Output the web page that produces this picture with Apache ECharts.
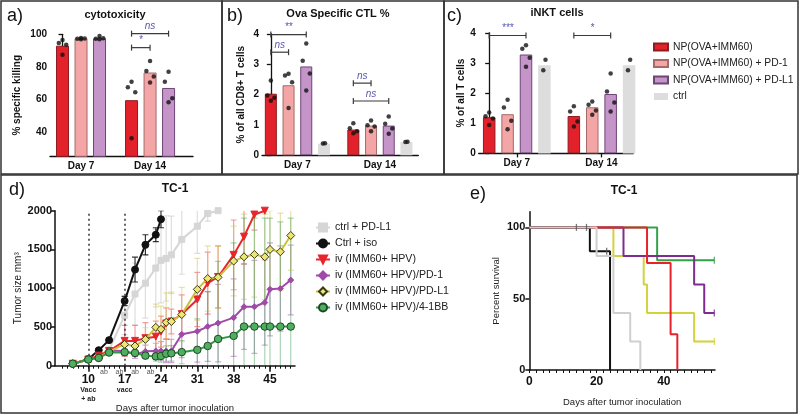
<!DOCTYPE html>
<html><head><meta charset="utf-8">
<script src="https://cdn.jsdelivr.net/npm/echarts@6/dist/echarts.min.js"></script>
<style>html,body{margin:0;padding:0;background:#fff}#c{width:800px;height:418px}</style>
</head><body><div id="c"></div>
<script>
// ================= DATA =================
const barGroups = ['NP(OVA+IMM60)', 'NP(OVA+IMM60) + PD-1', 'NP(OVA+IMM60) + PD-L1', 'ctrl'];
const barDays = ['Day 7', 'Day 14'];

// a) cytotoxicity: [day][group]
const cytoMeans = [[93, 97.5, 97.5], [59.5, 76.5, 67]];
const cytoDots = [
  [[96.5, 94.6, 93.6, 87.4], [97.8, 97.2, 97.4, 97.0], [99.0, 97.2, 97.5, 97.0]],
  [[70.9, 67.4, 64.4, 36.1], [83.6, 77.5, 74.0, 70.3], [77.0, 70.9, 60.7, 58.2]]
];
const cytoSig = [{day:1, from:0, to:2, y:100.4, label:'ns'}, {day:1, from:0, to:1, y:91.8, label:'*'}];
const cytoTicks = [40, 60, 80, 100];

// b) Ova specific CTL %
const ctlMeans = [[2.03, 2.31, 2.93, 0.38], [0.85, 0.98, 0.98, 0.44]];
const ctlDots = [
  [[2.47, 1.97, 1.90, 1.80], [2.69, 2.63, 2.41, 1.56], [3.69, 3.12, 2.70, 2.14], [0.40, 0.39]],
  [[1.06, 0.89, 0.79, 0.73], [1.15, 0.99, 0.95, 0.79], [1.28, 1.04, 0.88, 0.71], [0.45, 0.44]]
];
const ctlSig = [{day:0, from:0, to:2, y:3.98, label:'**'}, {day:0, from:0, to:1, y:3.40, label:'ns'},
                {day:1, from:0, to:1, y:2.38, label:'ns'}, {day:1, from:0, to:2, y:1.79, label:'ns'}];
const ctlTicks = [0, 1, 2, 3, 4];

// c) iNKT cells
const nktMeans = [[1.20, 1.30, 3.28, 2.92], [1.24, 1.53, 1.97, 2.92]];
const nktDots = [
  [[1.36, 1.23, 1.16, 0.94], [1.78, 1.52, 1.08, 0.80], [3.59, 3.47, 3.17, 2.87], [3.11, 2.76]],
  [[1.56, 1.39, 1.06, 0.89], [1.72, 1.61, 1.42, 1.28], [2.65, 2.05, 1.69, 1.39], [3.11, 2.76]]
];
const nktSig = [{day:0, from:0, to:2, y:3.91, label:'***'}, {day:1, from:0, to:2, y:3.91, label:'*'}];
const nktTicks = [0, 1, 2, 3, 4];

// d) TC-1 tumor growth
const tumorGroups = ['ctrl + PD-L1', 'Ctrl + iso', 'iv (IMM60+ HPV)', 'iv (IMM60+ HPV)/PD-1', 'iv (IMM60+ HPV)/PD-L1', 'iv (IMM60+ HPV)/4-1BB'];
const ctrlPdl1Days = [7,10,12,14,17,19,21,23,24,25,26,28,31,33,35];
const ctrlPdl1Mean = [25,80,130,200,650,925,1065,1260,1360,1385,1430,1630,1800,1965,2000];
const ctrlPdl1Sem  = [5,10,30,40,250,400,450,500,550,550,500,450,350,100,20];
const ctrlIsoDays = [7,10,12,14,17,19,21,23,24];
const ctrlIsoMean = [25,85,200,330,835,1240,1560,1690,1890];
const ctrlIsoSem  = [5,10,20,25,60,160,130,90,110];
const ivDays = [7,10,12,14,17,19,21,23,24,25,26,28,31,33,35,38,40,42,44];
const ivMean = [25,80,130,190,320,320,355,375,440,545,570,665,855,1065,1145,1430,1665,1950,2000];
const ivSem  = [5,10,20,40,200,200,200,200,200,200,160,250,350,400,400,450,350,200,0];
const pd1Days = [7,10,12,14,17,19,21,23,24,25,26,28,31,33,35,38,40,42,44,45,47,49];
const pd1Mean = [25,80,100,195,190,145,185,190,190,190,190,405,445,505,550,620,760,760,815,985,995,1105];
const pd1Sem  = [5,10,20,40,60,50,80,100,120,150,150,300,400,450,500,500,550,600,550,600,550,450];
const pdl1Days = [7,10,12,14,17,19,21,23,24,25,26,28,31,33,35,38,40,42,44,45,47,49];
const pdl1Mean = [25,80,100,185,275,255,340,495,470,560,570,660,985,1125,1140,1350,1405,1435,1405,1500,1470,1680];
const pdl1Sem  = [5,10,20,40,80,100,150,300,300,380,380,350,400,420,400,450,550,550,550,500,500,450];
const bbDays = [7,10,12,14,17,19,21,23,24,25,26,28,31,33,35,38,40,42,44,45,47,49];
const bbMean = [25,80,100,170,175,165,130,120,125,155,160,175,205,255,345,385,505,505,505,505,505,505];
const bbSem  = [5,10,20,30,40,40,40,60,80,100,100,150,400,700,1000,1200,1400,1400,1400,1400,1350,1400];
const tumorTickDays = [10, 17, 24, 31, 38, 45];
const tumorTickNotes = {10: ['Vacc', '+ ab'], 17: ['vacc']};
const abDays = [13, 16, 19, 22];
const vaccDays = [10, 17];
const tumorYTicks = [0, 500, 1000, 1500, 2000];

// e) TC-1 survival (Kaplan-Meier: [day, percent])
const kmCtrlPdl1 = [[0,100],[20,80],[25,40],[30,20],[33,0]];
const kmCtrlIso  = [[0,100],[18,83.3],[24,0]];
const kmIv       = [[0,100],[35,75],[42,25],[44,0]];
const kmPd1      = [[0,100],[28,80],[49,60],[52,40],[55,40]];
const kmPdl1     = [[0,100],[25,80],[34,60],[35,40],[49,20],[55,20]];
const kmBb       = [[0,100],[38,77],[55,77]];
const kmCensIso  = [[14,100],[17,100],[23,83.3]];
const kmCensPd1  = [[55,40]];
const kmCensPdl1 = [[55,20]];
const kmCensBb   = [[55,77]];
const survXTicks = [0, 20, 40];
const survYTicks = [0, 50, 100];

// ================= STYLE / LAYOUT =================
const FONT = '"Liberation Sans", Arial, Helvetica, sans-serif';
const barColors = ['#e3212a', '#f4a5a5', '#c595c9', '#dddddd'];
const barBorders = ['#8e1c20', '#a66a6a', '#6e4577', '#dddddd'];
const lineColors = ['#d6d6d6', '#111111', '#e8252b', '#a04aa8', '#c9c23a', '#2f9a45'];
const errColors = ['rgba(200,200,200,0.6)', 'rgba(20,20,20,0.85)', 'rgba(232,80,85,0.55)', 'rgba(170,90,180,0.5)', 'rgba(210,200,90,0.5)', 'rgba(70,160,90,0.45)'];

const chart = echarts.init(document.getElementById('c'), null, {renderer: 'canvas'});

function jitter(n, k) {
  if (n === 2) return [0.06, -0.06][k];
  return [0, -0.2, 0.2, 0][k] || 0;
}
function bracketRender(sig) {
  return function (params, api) {
    const p1 = api.coord([api.value(0), api.value(2)]);
    const p2 = api.coord([api.value(1), api.value(2)]);
    const t = 3;
    return {type: 'group', children: [
      {type: 'line', shape: {x1: p1[0], y1: p1[1], x2: p2[0], y2: p2[1]}, style: {stroke: '#3a3a3a', lineWidth: 1.2}},
      {type: 'line', shape: {x1: p1[0], y1: p1[1] - t, x2: p1[0], y2: p1[1] + t}, style: {stroke: '#3a3a3a', lineWidth: 1.2}},
      {type: 'line', shape: {x1: p2[0], y1: p2[1] - t, x2: p2[0], y2: p2[1] + t}, style: {stroke: '#3a3a3a', lineWidth: 1.2}},
      {type: 'text', style: {text: sig[params.dataIndex].label, x: (p1[0] + p2[0]) / 2, y: p1[1] - 2,
        align: 'center', verticalAlign: 'bottom', fill: '#5858b0', font: 'italic 10px ' + FONT}}
    ]};
  };
}
function barPanelSeries(idx, means, dots, step, nG, bw, sig) {
  const out = [];
  for (let g = 0; g < nG; g++) {
    out.push({
      type: 'bar', name: barGroups[g], xAxisIndex: idx, yAxisIndex: idx, barWidth: bw, barGap: '-100%', clip: true,
      itemStyle: {color: barColors[g], borderColor: barBorders[g], borderWidth: g === 3 ? 0 : 1},
      data: means.map((m, d) => [d * step + g, m[g]]), z: 2, silent: true
    });
  }
  const pts = [];
  dots.forEach((dayArr, d) => dayArr.forEach((arr, g) => {
    arr.forEach((v, k) => pts.push([d * step + g + jitter(arr.length, k), v]));
  }));
  out.push({type: 'scatter', xAxisIndex: idx, yAxisIndex: idx, symbolSize: 4.5, itemStyle: {color: '#111'}, data: pts, z: 5, silent: true});
  out.push({type: 'custom', xAxisIndex: idx, yAxisIndex: idx, clip: false, silent: true,
    data: sig.map(s => [s.day * step + s.from, s.day * step + s.to, s.y]), renderItem: bracketRender(sig), z: 6});
  return out;
}
function errRender(color) {
  return function (params, api) {
    const x = api.value(0), m = api.value(1), e = api.value(2);
    if (!e) return null;
    const top = api.coord([x, Math.min(2000, m + e)]);
    const lo = m - e;
    const bot = api.coord([x, Math.max(0, lo)]);
    const c = 3;
    const ch = [
      {type: 'line', shape: {x1: top[0], y1: top[1], x2: bot[0], y2: bot[1]}, style: {stroke: color, lineWidth: 1.2}}
    ];
    if (m + e <= 2000) ch.push({type: 'line', shape: {x1: top[0] - c, y1: top[1], x2: top[0] + c, y2: top[1]}, style: {stroke: color, lineWidth: 1.2}});
    if (lo >= 0) ch.push({type: 'line', shape: {x1: bot[0] - c, y1: bot[1], x2: bot[0] + c, y2: bot[1]}, style: {stroke: color, lineWidth: 1.2}});
    return {type: 'group', children: ch};
  };
}

const stepA = 3.73, stepB = 4.66, stepC = 4.6;
const axisLineStyle = {lineStyle: {color: '#111', width: 1.3}};
const bold10 = {fontSize: 10, fontWeight: 'bold', fontFamily: FONT, color: '#111'};

function barXAxis(grid, min, max, step, nG, ticks) {
  const centers = barDays.map((_, d) => d * step + (nG - 1) / 2);
  return {type: 'value', gridIndex: grid, min: min, max: max, splitLine: {show: false},
    axisLine: {show: true, onZero: false, ...axisLineStyle},
    axisTick: {show: ticks, customValues: centers, length: 4, lineStyle: {color: '#111', width: 1.3}},
    axisLabel: {customValues: centers, margin: 5, ...bold10, formatter: v => barDays[Math.round((v - (nG - 1) / 2) / step)]}};
}
function barYAxis(grid, min, max, ticks, name, gap) {
  return {type: 'value', gridIndex: grid, min: min, max: max, splitLine: {show: false},
    axisLine: {show: true, ...axisLineStyle},
    axisTick: {show: true, customValues: ticks, length: 4, lineStyle: {color: '#111', width: 1.3}},
    axisLabel: {customValues: ticks, margin: 3, ...bold10},
    name: name, nameLocation: 'middle', nameGap: gap, nameTextStyle: {...bold10}};
}

const tumorSeriesDefs = [
  {days: ctrlPdl1Days, mean: ctrlPdl1Mean, sem: ctrlPdl1Sem, symbol: 'rect', size: 6, border: '#d6d6d6', fill: '#d6d6d6', rot: 0},
  {days: ctrlIsoDays, mean: ctrlIsoMean, sem: ctrlIsoSem, symbol: 'circle', size: 7, border: '#111', fill: '#111', rot: 0},
  {days: ivDays, mean: ivMean, sem: ivSem, symbol: 'triangle', size: 7, border: '#e8252b', fill: '#e8252b', rot: 180},
  {days: pd1Days, mean: pd1Mean, sem: pd1Sem, symbol: 'diamond', size: 6, border: '#a04aa8', fill: '#a04aa8', rot: 0},
  {days: pdl1Days, mean: pdl1Mean, sem: pdl1Sem, symbol: 'diamond', size: 8, border: '#3a3a10', fill: '#ece67a', rot: 0},
  {days: bbDays, mean: bbMean, sem: bbSem, symbol: 'circle', size: 7.5, border: '#1c4a25', fill: '#4fae5f', rot: 0}
];
const drawOrder = [0, 1, 3, 2, 4, 5];
const tumorSeries = [];
drawOrder.forEach((i, k) => {
  const s = tumorSeriesDefs[i];
  tumorSeries.push({type: 'custom', xAxisIndex: 3, yAxisIndex: 3, clip: true, silent: true, z: 2,
    data: s.days.map((d, j) => [d, s.mean[j], s.sem[j]]), renderItem: errRender(errColors[i])});
});
drawOrder.forEach((i, k) => {
  const s = tumorSeriesDefs[i];
  tumorSeries.push({type: 'line', name: tumorGroups[i], xAxisIndex: 3, yAxisIndex: 3, clip: false, z: 3 + k,
    data: s.days.map((d, j) => [d, s.mean[j]]),
    symbol: s.symbol, symbolSize: s.size, symbolRotate: s.rot, showAllSymbol: true,
    lineStyle: {color: lineColors[i], width: 2}, itemStyle: {color: s.fill, borderColor: s.border, borderWidth: 1},
    markLine: i === 1 ? {silent: true, symbol: 'none', label: {show: false},
      lineStyle: {color: '#333', type: [2, 3], width: 1.5}, data: vaccDays.map(v => ({xAxis: v}))} : undefined
  });
});

const kmDefs = [
  {d: kmBb, c: '#35a04a', cens: kmCensBb},
  {d: kmPdl1, c: '#d2d23c', cens: kmCensPdl1},
  {d: kmPd1, c: '#7e2c8f', cens: kmCensPd1},
  {d: kmIv, c: '#e8222a', cens: []},
  {d: kmCtrlIso, c: '#111111', cens: kmCensIso},
  {d: kmCtrlPdl1, c: '#cfcfcf', cens: []}
];
const kmSeries = [];
kmDefs.forEach((k, i) => {
  kmSeries.push({type: 'line', xAxisIndex: 6, yAxisIndex: 4, step: 'end', data: k.d, symbol: 'none', silent: true,
    lineStyle: {color: k.c, width: 2}, z: 3 + i, clip: false});
  if (k.cens.length) kmSeries.push({type: 'scatter', xAxisIndex: 6, yAxisIndex: 4, data: k.cens, symbol: 'rect',
    symbolSize: [1.3, 7], itemStyle: {color: k.c === '#111111' ? '#555' : k.c}, z: 10, silent: true});
});

const texts = [
  {t: 'a)', x: 7, y: 16, f: '18px ' + FONT, a: 'left'},
  {t: 'b)', x: 227, y: 16, f: '18px ' + FONT, a: 'left'},
  {t: 'c)', x: 447, y: 16, f: '18px ' + FONT, a: 'left'},
  {t: 'd)', x: 9, y: 190, f: '18px ' + FONT, a: 'left'},
  {t: 'e)', x: 470, y: 194, f: '18px ' + FONT, a: 'left'},
  {t: 'cytotoxicity', x: 115, y: 15, f: 'bold 11px ' + FONT, a: 'center'},
  {t: 'Ova Specific CTL %', x: 338, y: 14, f: 'bold 11px ' + FONT, a: 'center'},
  {t: 'iNKT cells', x: 557, y: 13, f: 'bold 11px ' + FONT, a: 'center'},
  {t: 'TC-1', x: 175, y: 189, f: 'bold 12px ' + FONT, a: 'center'},
  {t: 'TC-1', x: 624, y: 191, f: 'bold 12px ' + FONT, a: 'center'}
];
const boxes = [[1, 1, 221, 173], [222, 1, 222, 173], [444, 1, 354, 173], [1, 175, 796, 238]];
const graphic = [];
boxes.forEach(b => graphic.push({type: 'rect', shape: {x: b[0], y: b[1], width: b[2], height: b[3]},
  style: {fill: null, stroke: '#333', lineWidth: 1.5}, silent: true, z: 100}));
texts.forEach(t => graphic.push({type: 'text', x: t.x, y: t.y, silent: true,
  style: {text: t.t, font: t.f, fill: '#111', align: t.a, verticalAlign: 'middle'}}));

const option = {
  animation: false,
  backgroundColor: '#fff',
  grid: [
    {left: 50, top: 34.3, width: 143, height: 122},
    {left: 262, top: 34, width: 156.3, height: 121.3},
    {left: 478.7, top: 32.8, width: 154.6, height: 120.6},
    {left: 55, top: 210.7, width: 240, height: 155},
    {left: 529.3, top: 211.7, width: 185.7, height: 158.3}
  ],
  xAxis: [
    barXAxis(0, -0.676, 7.05, stepA, 3, false),
    barXAxis(1, -0.5, 8.33, stepB, 4, false),
    barXAxis(2, -0.57, 7.83, stepC, 4, true),
    {type: 'value', gridIndex: 3, min: 3.58, max: 49.82, position: 'bottom', splitLine: {show: false},
      axisLine: {show: true, onZero: false, lineStyle: {color: '#111', width: 1.5}},
      axisTick: {show: true, customValues: Array.from({length: 45}, (_, i) => i + 5), length: 3, lineStyle: {color: '#111', width: 1}},
      axisLabel: {customValues: tumorTickDays, margin: 7,
        formatter: v => '{b|' + v + '}' + (tumorTickNotes[v] ? tumorTickNotes[v].map(n => '\n{s|' + n + '}').join('') : ''),
        rich: {b: {fontSize: 12, fontWeight: 'bold', lineHeight: 13, fontFamily: FONT, color: '#111'},
               s: {fontSize: 7, fontWeight: 'bold', lineHeight: 9, fontFamily: FONT, color: '#222'}}},
      name: 'Days after tumor inoculation', nameLocation: 'middle', nameGap: 37,
      nameTextStyle: {fontSize: 9.5, fontFamily: FONT, color: '#222'}},
    {type: 'value', gridIndex: 3, min: 3.58, max: 49.82, position: 'bottom', splitLine: {show: false},
      axisLine: {show: false}, axisTick: {show: false},
      axisLabel: {customValues: abDays, margin: 3, formatter: () => 'ab', fontSize: 7, fontFamily: FONT, color: '#555'}},
    {type: 'value', gridIndex: 3, min: 3.58, max: 49.82, position: 'bottom', splitLine: {show: false},
      axisLine: {show: false}, axisLabel: {show: false},
      axisTick: {show: true, customValues: tumorTickDays, length: 6, lineStyle: {color: '#111', width: 1.5}}},
    {type: 'value', gridIndex: 4, min: 0, max: 55.2, splitLine: {show: false},
      axisLine: {show: true, onZero: false, lineStyle: {color: '#111', width: 1.5}},
      axisTick: {show: true, customValues: Array.from({length: 28}, (_, i) => i * 2), length: 3, lineStyle: {color: '#111'}},
      axisLabel: {customValues: survXTicks, margin: 6, fontSize: 12, fontWeight: 'bold', fontFamily: FONT, color: '#111'},
      name: 'Days after tumor inoculation', nameLocation: 'middle', nameGap: 27,
      nameTextStyle: {fontSize: 9.5, fontFamily: FONT, color: '#222'}}
  ],
  yAxis: [
    barYAxis(0, 25, 100, cytoTicks, '% specific killing', 28),
    barYAxis(1, 0, 4, ctlTicks, '% of all CD8+ T cells', 16),
    barYAxis(2, 0, 4, nktTicks, '% of all T cells', 12),
    {type: 'value', gridIndex: 3, min: 0, max: 2000, splitLine: {show: false},
      axisLine: {show: true, lineStyle: {color: '#111', width: 1.5}},
      axisTick: {show: true, customValues: tumorYTicks, length: 4, lineStyle: {color: '#111', width: 1.5}},
      axisLabel: {customValues: tumorYTicks, margin: 3, formatter: v => String(v), fontSize: 11, fontWeight: 'bold', fontFamily: FONT, color: '#111'},
      name: 'Tumor size mm³', nameLocation: 'middle', nameGap: 30,
      nameTextStyle: {fontSize: 10, fontFamily: FONT, color: '#222'}},
    {type: 'value', gridIndex: 4, min: 0, max: 111, splitLine: {show: false},
      axisLine: {show: true, lineStyle: {color: '#111', width: 1.5}},
      axisTick: {show: true, customValues: survYTicks, length: 4, lineStyle: {color: '#111', width: 1.5}},
      axisLabel: {customValues: survYTicks, margin: 4, fontSize: 11, fontWeight: 'bold', fontFamily: FONT, color: '#111'},
      name: 'Percent survival', nameLocation: 'middle', nameGap: 28,
      nameTextStyle: {fontSize: 9.5, fontFamily: FONT, color: '#222'}}
  ],
  legend: [
    {data: barGroups, orient: 'vertical', left: 648, top: 37, itemWidth: 14, itemHeight: 7, itemGap: 6.5,
      icon: 'rect', selectedMode: false, textStyle: {fontSize: 10.3, fontFamily: FONT, color: '#222'}},
    {data: tumorGroups, orient: 'vertical', left: 310, top: 217, itemWidth: 14, itemHeight: 10, itemGap: 5,
      selectedMode: false, textStyle: {fontSize: 10.6, fontFamily: FONT, color: '#222'}}
  ],
  graphic: graphic,
  series: [
    ...barPanelSeries(0, cytoMeans, cytoDots, stepA, 3, 13, cytoSig),
    ...barPanelSeries(1, ctlMeans, ctlDots, stepB, 4, 12, ctlSig),
    ...barPanelSeries(2, nktMeans, nktDots, stepC, 4, 12.5, nktSig),
    ...tumorSeries,
    ...kmSeries
  ]
};
chart.setOption(option);
</script></body></html>
